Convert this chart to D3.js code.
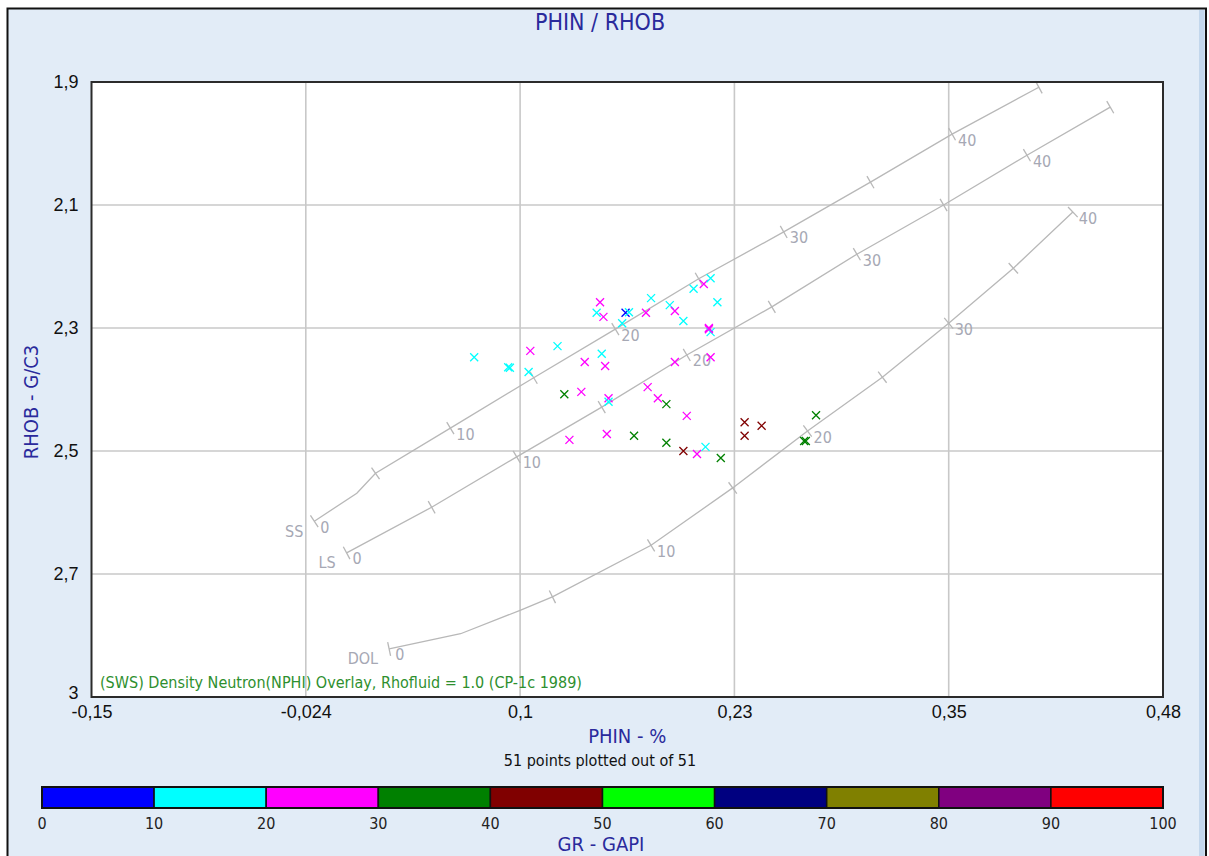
<!DOCTYPE html>
<html>
<head>
<meta charset="utf-8">
<script src="https://cdn.jsdelivr.net/npm/d3@7"></script>
<style>
  body { margin: 0; background: #fff; }
  svg { display: block; font-family: Tahoma, "DejaVu Sans Condensed", "DejaVu Sans", sans-serif; }
</style>
</head>
<body>
<div id="chart-container"></div>
<script>
// Axis ticks (values and the labels the software printed)
const xTickVals = [-0.15, -0.024, 0.102, 0.228, 0.354, 0.48];
const xTickLabels = ["-0,15", "-0,024", "0,1", "0,23", "0,35", "0,48"];
const yTickVals = [1.9, 2.11, 2.32, 2.53, 2.74, 2.95];
const yTickLabels = ["1,9", "2,1", "2,3", "2,5", "2,7", "3"];

// Lithology lines (CP-1c), porosity null = no tick
const ssPor  = [0, null, 5, 10, 15, 20, 25, 30, 35, 40, 45];
const ssPhin = [-0.019, 0.006, 0.017, 0.061, 0.110, 0.158, 0.207, 0.257, 0.308, 0.356, 0.407];
const ssRhob = [2.650, 2.602, 2.568, 2.491, 2.405, 2.322, 2.236, 2.156, 2.071, 1.989, 1.909];

const lsPor  = [0, 5, 10, 15, 20, 25, 30, 35, 40, 45];
const lsPhin = [0.000, 0.050, 0.100, 0.150, 0.200, 0.250, 0.300, 0.351, 0.400, 0.449];
const lsRhob = [2.704, 2.626, 2.540, 2.455, 2.366, 2.284, 2.194, 2.110, 2.025, 1.943];

const dolPor  = [0, null, null, 5, 10, 15, 20, 25, 30, 35, 40];
const dolPhin = [0.025, 0.067, 0.102, 0.121, 0.179, 0.227, 0.271, 0.315, 0.354, 0.392, 0.427];
const dolRhob = [2.868, 2.842, 2.802, 2.779, 2.691, 2.593, 2.496, 2.404, 2.312, 2.218, 2.122];

// Samples: PHIN, RHOB, GR
const phin = [0.075, 0.095, 0.096, 0.107, 0.108, 0.124, 0.149, 0.147, 0.151, 0.164,
  0.166, 0.162, 0.176, 0.179, 0.190, 0.193, 0.198, 0.204, 0.210, 0.214,
  0.218, 0.213, 0.214, 0.214, 0.193, 0.150, 0.140, 0.152, 0.128, 0.138,
  0.154, 0.154, 0.177, 0.183, 0.188, 0.200, 0.131, 0.153, 0.169, 0.188,
  0.198, 0.206, 0.211, 0.220, 0.234, 0.244, 0.234, 0.276, 0.269, 0.270, 0.213];
const rhob = [2.370, 2.387, 2.388, 2.395, 2.359, 2.351, 2.276, 2.294, 2.301, 2.294,
  2.293, 2.312, 2.294, 2.269, 2.281, 2.291, 2.308, 2.253, 2.245, 2.235,
  2.276, 2.320, 2.327, 2.370, 2.378, 2.364, 2.378, 2.385, 2.433, 2.429,
  2.440, 2.446, 2.421, 2.440, 2.450, 2.470, 2.511, 2.501, 2.504, 2.516,
  2.530, 2.535, 2.523, 2.542, 2.481, 2.487, 2.504, 2.469, 2.513, 2.513, 2.322];
const gr = [15, 15, 15, 15, 25, 15, 25, 15, 25, 5,
  15, 15, 25, 15, 15, 25, 15, 15, 25, 15,
  15, 25, 15, 25, 25, 15, 25, 25, 35, 25,
  25, 15, 25, 25, 35, 25, 25, 25, 35, 35,
  45, 25, 15, 35, 45, 45, 45, 35, 35, 35, 25];

// GR colour legend
const grBreaks = [0, 10, 20, 30, 40, 50, 60, 70, 80, 90, 100];
const grColors = ["#0000ff", "#00ffff", "#ff00ff", "#008000", "#800000",
  "#00ff00", "#000080", "#808000", "#800080", "#ff0000"];

const W = 1209, H = 856;
const plot = { left: 91.5, top: 82, right: 1163, bottom: 697 };

const svg = d3.select("#chart-container")
  .append("svg")
  .attr("width", W)
  .attr("height", H);

// window frame
svg.append("rect")
  .attr("x", 7.5).attr("y", 8.5)
  .attr("width", 1198.5).attr("height", 870)
  .attr("fill", "#e2ecf7")
  .attr("stroke", "#111").attr("stroke-width", 2);
svg.append("rect")
  .attr("x", 1199).attr("y", 10)
  .attr("width", 5.5).attr("height", 850)
  .attr("fill", "#c3d7ec");

const x = d3.scaleLinear().domain([-0.15, 0.48]).range([plot.left, plot.right]);
const y = d3.scaleLinear().domain([1.9, 2.95]).range([plot.top, plot.bottom]);

// plot background
svg.append("rect")
  .attr("x", plot.left).attr("y", plot.top)
  .attr("width", plot.right - plot.left).attr("height", plot.bottom - plot.top)
  .attr("fill", "#fff");

// grid
svg.append("g")
  .selectAll("line")
  .data(xTickVals.slice(1, -1))
  .join("line")
  .attr("x1", d => x(d)).attr("x2", d => x(d))
  .attr("y1", plot.top).attr("y2", plot.bottom)
  .attr("stroke", "#c8c8c8").attr("stroke-width", 1.6);
svg.append("g")
  .selectAll("line")
  .data(yTickVals.slice(1, -1))
  .join("line")
  .attr("x1", plot.left).attr("x2", plot.right)
  .attr("y1", d => y(d)).attr("y2", d => y(d))
  .attr("stroke", "#c8c8c8").attr("stroke-width", 1.6);

// axes labels
const xAxis = d3.axisBottom(x)
  .tickValues(xTickVals)
  .tickFormat((d, i) => xTickLabels[i])
  .tickSize(0).tickPadding(8);
const gx = svg.append("g")
  .attr("transform", `translate(0,${plot.bottom})`)
  .call(xAxis);
gx.select(".domain").remove();
gx.selectAll("text").attr("font-size", 18).attr("fill", "#111").attr("font-family", null);

const yAxis = d3.axisLeft(y)
  .tickValues(yTickVals)
  .tickFormat((d, i) => yTickLabels[i])
  .tickSize(0).tickPadding(13);
const gy = svg.append("g")
  .attr("transform", `translate(${plot.left},0)`)
  .call(yAxis);
gy.select(".domain").remove();
gy.selectAll("text").attr("font-size", 18).attr("fill", "#111").attr("font-family", null);
// last y label sits a little higher so it clears the x label below it
gy.selectAll(".tick:last-of-type text").attr("dy", "0.1em");

// lithology lines
const line = d3.line().x(d => x(d.phin)).y(d => y(d.rhob));
const lithos = [
  { name: "SS", por: ssPor, phin: ssPhin, rhob: ssRhob },
  { name: "LS", por: lsPor, phin: lsPhin, rhob: lsRhob },
  { name: "DOL", por: dolPor, phin: dolPhin, rhob: dolRhob }
];
const grey = "#b8b8b8";
const labelGrey = "#a6a8b4";

lithos.forEach(l => {
  const pts = l.phin.map((p, i) => ({ phin: p, rhob: l.rhob[i], por: l.por[i] }));
  const g = svg.append("g");
  g.append("path")
    .attr("d", line(pts))
    .attr("fill", "none")
    .attr("stroke", grey).attr("stroke-width", 1.3);

  pts.forEach((p, i) => {
    if (p.por === null) return;
    const a = pts[Math.max(0, i - 1)], b = pts[Math.min(pts.length - 1, i + 1)];
    const dx = x(b.phin) - x(a.phin), dy = y(b.rhob) - y(a.rhob);
    const len = Math.hypot(dx, dy);
    const nx = -dy / len, ny = dx / len;
    const px = x(p.phin), py = y(p.rhob);
    g.append("line")
      .attr("x1", px - nx * 7).attr("y1", py - ny * 7)
      .attr("x2", px + nx * 7).attr("y2", py + ny * 7)
      .attr("stroke", grey).attr("stroke-width", 1.3);
    if (p.por % 10 === 0 && p.por <= 40) {
      g.append("text")
        .attr("x", px + 6).attr("y", py + 7)
        .attr("dominant-baseline", "middle")
        .attr("font-size", 16).attr("fill", labelGrey)
        .text(p.por);
    }
  });

  g.append("text")
    .attr("x", x(pts[0].phin) - 11).attr("y", y(pts[0].rhob) + 11)
    .attr("text-anchor", "end")
    .attr("dominant-baseline", "middle")
    .attr("font-size", 16).attr("fill", labelGrey)
    .text(l.name);
});

// samples
const grColor = d3.scaleThreshold().domain(grBreaks.slice(1, -1)).range(grColors);
svg.append("g")
  .selectAll("path")
  .data(phin.map((p, i) => ({ phin: p, rhob: rhob[i], gr: gr[i] })))
  .join("path")
  .attr("transform", d => `translate(${x(d.phin)},${y(d.rhob)})`)
  .attr("d", "M-4,-4L4,4M-4,4L4,-4")
  .attr("fill", "none")
  .attr("stroke", d => grColor(d.gr))
  .attr("stroke-width", 1.3);

// overlay note
svg.append("text")
  .attr("x", 100).attr("y", 683)
  .attr("dominant-baseline", "middle")
  .attr("font-size", 16).attr("fill", "#2e8f2e")
  .text("(SWS) Density Neutron(NPHI) Overlay, Rhofluid = 1.0 (CP-1c 1989)");

// plot border
svg.append("rect")
  .attr("x", plot.left).attr("y", plot.top)
  .attr("width", plot.right - plot.left).attr("height", plot.bottom - plot.top)
  .attr("fill", "none")
  .attr("stroke", "#2b2b2b").attr("stroke-width", 2);

// titles
const navy = "#2a2a9c";
svg.append("text")
  .attr("x", 600).attr("y", 23)
  .attr("text-anchor", "middle").attr("dominant-baseline", "middle")
  .attr("font-size", 23).attr("fill", navy)
  .text("PHIN / RHOB");

svg.append("text")
  .attr("x", (plot.left + plot.right) / 2).attr("y", 737)
  .attr("text-anchor", "middle").attr("dominant-baseline", "middle")
  .attr("font-size", 20).attr("fill", navy)
  .text("PHIN - %");

svg.append("text")
  .attr("transform", `translate(32,402) rotate(-90)`)
  .attr("text-anchor", "middle").attr("dominant-baseline", "middle")
  .attr("font-size", 20).attr("fill", navy)
  .text("RHOB - G/C3");

svg.append("text")
  .attr("x", 600).attr("y", 761)
  .attr("text-anchor", "middle").attr("dominant-baseline", "middle")
  .attr("font-size", 16).attr("fill", "#111")
  .text("51 points plotted out of 51");

// GR colour bar
const xl = d3.scaleLinear().domain([0, 100]).range([42, 1163]);
const leg = svg.append("g");
leg.selectAll("rect")
  .data(grColors)
  .join("rect")
  .attr("x", (d, i) => xl(grBreaks[i]))
  .attr("y", 787)
  .attr("width", (d, i) => xl(grBreaks[i + 1]) - xl(grBreaks[i]))
  .attr("height", 21)
  .attr("fill", d => d)
  .attr("stroke", "#111").attr("stroke-width", 1.5);
leg.append("rect")
  .attr("x", xl(0)).attr("y", 787)
  .attr("width", xl(100) - xl(0)).attr("height", 21)
  .attr("fill", "none").attr("stroke", "#111").attr("stroke-width", 2);
leg.selectAll("text.lbl")
  .data(grBreaks)
  .join("text")
  .attr("class", "lbl")
  .attr("x", d => xl(d)).attr("y", 824)
  .attr("text-anchor", "middle").attr("dominant-baseline", "middle")
  .attr("font-size", 16).attr("fill", "#222")
  .text(d => d);

svg.append("text")
  .attr("x", 601).attr("y", 845)
  .attr("text-anchor", "middle").attr("dominant-baseline", "middle")
  .attr("font-size", 20).attr("fill", navy)
  .text("GR - GAPI");
</script>
</body>
</html>
